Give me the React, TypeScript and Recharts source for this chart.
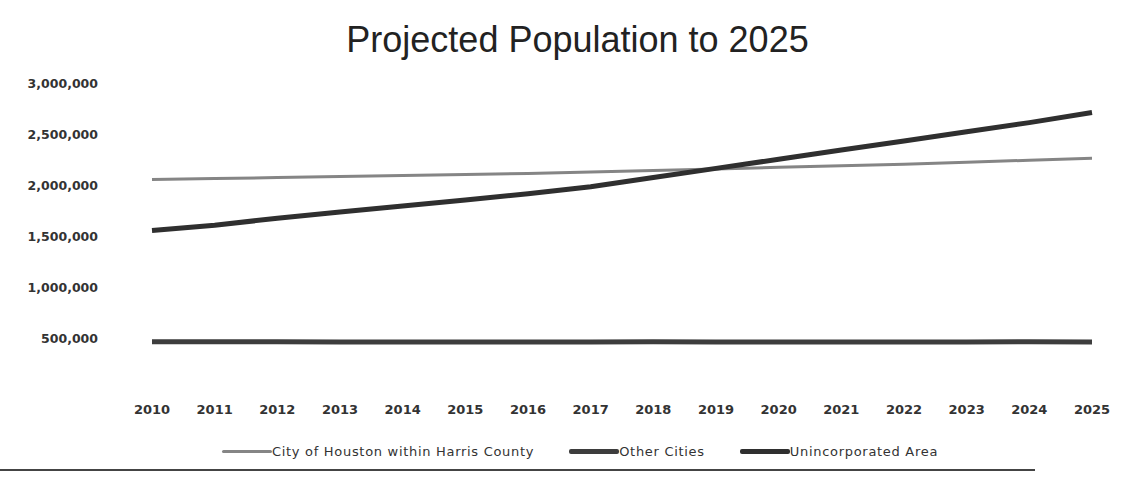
import React from 'react';
import { LineChart, Line, XAxis, YAxis, Legend } from 'recharts';

const years = ['2010','2011','2012','2013','2014','2015','2016','2017','2018','2019','2020','2021','2022','2023','2024','2025'];
const houston = [2060000,2070000,2080000,2090000,2100000,2110000,2120000,2135000,2150000,2165000,2180000,2195000,2210000,2230000,2250000,2270000];
const otherCities = [465000,465000,464000,463000,463000,463000,463000,463000,464000,463000,463000,463000,463000,463000,464000,463000];
const unincorporated = [1560000,1610000,1680000,1740000,1800000,1860000,1920000,1990000,2080000,2170000,2260000,2350000,2440000,2530000,2620000,2720000];
const yTicks = [500000,1000000,1500000,2000000,2500000,3000000];

const seriesNames = ['City of Houston within Harris County','Other Cities','Unincorporated Area'];
const seriesColors = ['#858585','#3d3d3d','#2f2f2f'];
const seriesWidths = [3, 5, 5];

const data = years.map((y, i) => ({ year: y, houston: houston[i], other: otherCities[i], unincorp: unincorporated[i] }));

const fmt = (v: number) => v.toLocaleString('en-US');

const LegendContent = () => (
  <div style={{ display: 'flex', justifyContent: 'center', alignItems: 'center', fontFamily: 'DejaVu Sans', fontSize: 13, letterSpacing: 0.7, color: '#333' }}>
    {seriesNames.map((n, i) => (
      <div key={n} style={{ display: 'flex', alignItems: 'center', marginRight: i < 2 ? 35 : 0 }}>
        <div style={{ width: 50, height: i === 0 ? 3 : 5, background: seriesColors[i], borderRadius: 2 }} />
        <span>{n}</span>
      </div>
    ))}
  </div>
);

export default function App() {
  return (
    <div style={{ position: 'absolute', left: 0, top: 0, width: 1135, height: 477, background: '#fff', overflow: 'hidden' }}>
      <div style={{ position: 'absolute', top: 19, left: 0, width: 1155, textAlign: 'center', fontFamily: 'Liberation Sans', fontSize: 36, color: '#222' }}>
        Projected Population to 2025
      </div>
      <LineChart width={1135} height={477} data={data} margin={{ top: 84, right: 43, left: 0, bottom: 48 }}>
        <XAxis dataKey="year" axisLine={false} tickLine={false} tickSize={0} tickMargin={16} height={40} interval={0}
          tick={{ fontFamily: 'DejaVu Sans', fontSize: 13, fontWeight: 'bold', fill: '#333' }} />
        <YAxis width={152} domain={[0, 3000000]} ticks={yTicks} axisLine={false} tickLine={false} tickSize={0} tickMargin={54}
          tickFormatter={fmt} tick={{ fontFamily: 'DejaVu Sans', fontSize: 12.5, fontWeight: 'bold', fill: '#333' }} />
        <Line dataKey="houston" name={seriesNames[0]} stroke={seriesColors[0]} strokeWidth={seriesWidths[0]} dot={false} isAnimationActive={false} />
        <Line dataKey="other" name={seriesNames[1]} stroke={seriesColors[1]} strokeWidth={seriesWidths[1]} dot={false} isAnimationActive={false} />
        <Line dataKey="unincorp" name={seriesNames[2]} stroke={seriesColors[2]} strokeWidth={seriesWidths[2]} dot={false} isAnimationActive={false} />
        <Legend layout="horizontal" verticalAlign="middle" align="center" content={LegendContent}
          wrapperStyle={{ top: 444, left: 0, width: 1160, height: 20 }} />
      </LineChart>
      <div style={{ position: 'absolute', left: 0, top: 469, width: 1035, height: 2, background: '#444' }} />
    </div>
  );
}
